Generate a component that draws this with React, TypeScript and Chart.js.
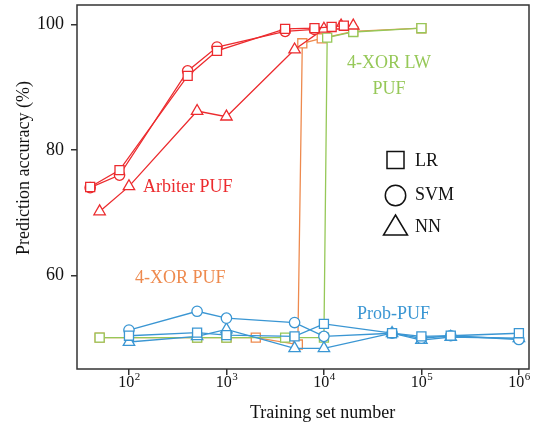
import { useEffect, useRef } from "react";
import { Chart, registerables } from "chart.js";

Chart.register(...registerables);

const FONT = "'Liberation Serif', 'Times New Roman', serif";

const RED = "#EC2B2E";
const ORANGE = "#EE8A4E";
const GREEN = "#96C858";
const BLUE = "#3A96D3";

// axis ticks
const xTicks = [100, 1000, 10000, 100000, 1000000];
const xTickExponents = ["2", "3", "4", "5", "6"];
const yTicks = [60, 80, 100];

// Arbiter PUF
const arbiterLRx = [40, 80, 400, 800, 4000, 8000, 12000, 16000];
const arbiterLRy = [74.1, 76.8, 91.8, 95.8, 99.3, 99.4, 99.6, 99.8];
const arbiterSVMx = [40, 80, 400, 800, 4000, 8000];
const arbiterSVMy = [74.0, 76.0, 92.6, 96.4, 98.9, 99.2];
const arbiterNNx = [50, 100, 500, 1000, 5000, 10000, 15000, 20000];
const arbiterNNy = [70.2, 74.2, 86.2, 85.3, 96.0, 99.3, 99.8, 99.8];

// 4-XOR PUF (LR)
const xorLRx = [50, 500, 1000, 2000, 5400, 6000, 9500, 20000, 100000];
const xorLRy = [50.1, 50.1, 50.1, 50.1, 49.0, 97.0, 97.8, 98.9, 99.4];

// 4-XOR LW PUF (LR)
const lwLRx = [50, 500, 1000, 4000, 10000, 10800, 20000, 100000];
const lwLRy = [50.1, 50.1, 50.1, 50.1, 50.1, 97.9, 98.8, 99.4];

// Prob-PUF
const probX = [100, 500, 1000, 5000, 10000, 50000, 100000, 200000, 1000000];
const probLRy = [50.4, 50.9, 50.5, 50.3, 52.3, 50.8, 50.3, 50.4, 50.8];
const probSVMy = [51.3, 54.3, 53.2, 52.5, 50.3, 50.8, 50.0, 50.4, 49.8];
const probNNy = [49.4, 50.3, 51.4, 48.4, 48.4, 50.8, 49.7, 50.2, 50.0];

const pts = (xs: number[], ys: number[]) => xs.map((x, i) => ({ x, y: ys[i] }));

const styleFor = (shape: string) => {
  if (shape === "rect") return { pointStyle: "rect", pointRadius: 6.4 };
  if (shape === "circle") return { pointStyle: "circle", pointRadius: 5.2 };
  return { pointStyle: "triangle", pointRadius: 6.6 };
};

const series = (label: string, xs: number[], ys: number[], color: string, shape: string) => ({
  label,
  data: pts(xs, ys),
  borderColor: color,
  backgroundColor: color,
  pointBorderColor: color,
  pointBackgroundColor: "#ffffff",
  borderWidth: 1.3,
  pointBorderWidth: 1.3,
  tension: 0,
  ...styleFor(shape),
});

const decorations = {
  id: "decorations",
  afterDraw(chart: any) {
    const ctx = chart.ctx as CanvasRenderingContext2D;
    const { left, top, right, bottom } = chart.chartArea;
    ctx.save();
    // frame
    ctx.strokeStyle = "#333";
    ctx.lineWidth = 1.5;
    ctx.strokeRect(left, top, right - left, bottom - top);

    // x tick labels 10^n
    const xs = chart.scales.x;
    ctx.fillStyle = "#111";
    ctx.textBaseline = "alphabetic";
    ctx.textAlign = "left";
    xTicks.forEach((v, i) => {
      const px = xs.getPixelForValue(v);
      ctx.font = `16px ${FONT}`;
      const w1 = ctx.measureText("10").width;
      ctx.font = `11px ${FONT}`;
      const w2 = ctx.measureText(xTickExponents[i]).width;
      const start = px - (w1 + w2) / 2;
      ctx.font = `16px ${FONT}`;
      ctx.fillText("10", start, 387);
      ctx.font = `11px ${FONT}`;
      ctx.fillText(xTickExponents[i], start + w1 + 0.5, 380);
    });

    // axis titles
    ctx.font = `18px ${FONT}`;
    ctx.fillStyle = "#111";
    ctx.textAlign = "left";
    ctx.fillText("Training set number", 250, 418);
    ctx.save();
    ctx.translate(29, 168);
    ctx.rotate(-Math.PI / 2);
    ctx.textAlign = "center";
    ctx.fillText("Prediction accuracy (%)", 0, 0);
    ctx.restore();

    // series labels
    ctx.font = `18px ${FONT}`;
    ctx.textAlign = "left";
    ctx.fillStyle = RED;
    ctx.fillText("Arbiter PUF", 143, 192);
    ctx.fillStyle = ORANGE;
    ctx.fillText("4-XOR PUF", 135, 283);
    ctx.fillStyle = BLUE;
    ctx.fillText("Prob-PUF", 357, 319);
    ctx.fillStyle = GREEN;
    ctx.textAlign = "center";
    ctx.fillText("4-XOR LW", 389, 68);
    ctx.fillText("PUF", 389, 94);

    // legend of marker shapes
    ctx.strokeStyle = "#111";
    ctx.lineWidth = 1.5;
    ctx.strokeRect(387, 151.5, 17, 17);
    ctx.beginPath();
    ctx.arc(395.5, 195.5, 10.2, 0, Math.PI * 2);
    ctx.stroke();
    ctx.beginPath();
    ctx.moveTo(395.5, 215);
    ctx.lineTo(407.5, 235);
    ctx.lineTo(383.5, 235);
    ctx.closePath();
    ctx.stroke();
    ctx.fillStyle = "#111";
    ctx.textAlign = "left";
    ctx.fillText("LR", 415, 166);
    ctx.fillText("SVM", 415, 200);
    ctx.fillText("NN", 415, 232);
    ctx.restore();
  },
};

export default function App() {
  const ref = useRef<HTMLCanvasElement | null>(null);

  useEffect(() => {
    if (!ref.current) return;
    const grid = {
      display: true,
      drawOnChartArea: false,
      drawTicks: true,
      tickLength: 6,
      color: "#333",
      lineWidth: 1.5,
    };
    const chart = new Chart(ref.current, {
      type: "line",
      data: {
        datasets: [
          series("Arbiter LR", arbiterLRx, arbiterLRy, RED, "rect"),
          series("Arbiter SVM", arbiterSVMx, arbiterSVMy, RED, "circle"),
          series("Arbiter NN", arbiterNNx, arbiterNNy, RED, "triangle"),
          series("Prob LR", probX, probLRy, BLUE, "rect"),
          series("Prob SVM", probX, probSVMy, BLUE, "circle"),
          series("Prob NN", probX, probNNy, BLUE, "triangle"),
          series("4-XOR LW LR", lwLRx, lwLRy, GREEN, "rect"),
          series("4-XOR LR", xorLRx, xorLRy, ORANGE, "rect"),
        ] as any,
      },
      options: {
        responsive: false,
        animation: false,
        layout: { autoPadding: false, padding: { left: 0, right: 5, top: 5, bottom: 0 } },
        plugins: { legend: { display: false }, tooltip: { enabled: false } },
        scales: {
          x: {
            type: "logarithmic",
            min: 29.3,
            max: 1.27e6,
            afterBuildTicks: (s: any) => {
              s.ticks = xTicks.map((v) => ({ value: v }));
            },
            afterFit: (s: any) => {
              s.height = 58;
              s.paddingLeft = 0;
              s.paddingRight = 0;
            },
            ticks: { display: false },
            grid,
            border: { display: false },
          },
          y: {
            type: "linear",
            min: 45.1,
            max: 103.1,
            afterBuildTicks: (s: any) => {
              s.ticks = yTicks.map((v) => ({ value: v }));
            },
            afterFit: (s: any) => {
              s.width = 77;
              s.paddingTop = 0;
              s.paddingBottom = 0;
            },
            ticks: {
              font: { family: FONT, size: 18 },
              color: "#111",
              padding: 7,
              callback: (v: any) => String(v),
            },
            grid,
            border: { display: false },
          },
        },
      } as any,
      plugins: [decorations],
    });
    return () => chart.destroy();
  }, []);

  return (
    <div style={{ position: "fixed", left: 0, top: 0, width: 534, height: 427, background: "#fff" }}>
      <canvas ref={ref} width={534} height={427} style={{ width: 534, height: 427 }} />
    </div>
  );
}
